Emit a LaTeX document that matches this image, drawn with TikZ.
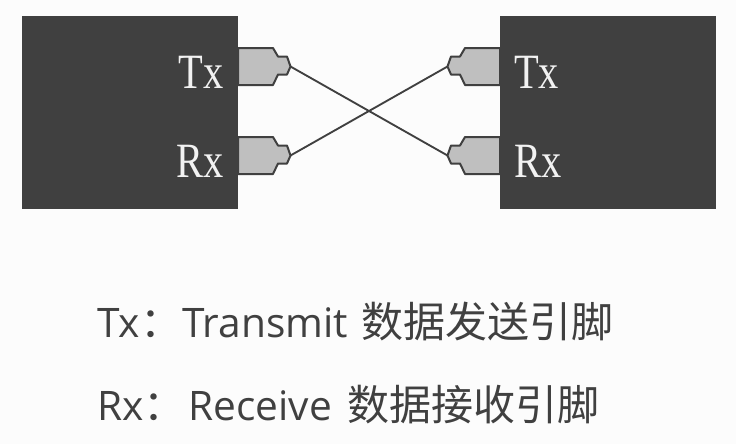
\documentclass[tikz,border=0pt]{standalone}
\usepackage{fontspec}
\usepackage{xcolor}
\setmainfont{Liberation Serif}
\newfontfamily\cjkfont{Noto Sans CJK SC}
\newfontfamily\latinfont{Open Sans}
\newcommand{\zh}[1]{{\cjkfont\fontsize{31.5}{31.5}\selectfont #1}}
\definecolor{chipdark}{HTML}{404040}
\definecolor{pingray}{HTML}{BFBFBF}
\usetikzlibrary{positioning}

\begin{document}
\begin{tikzpicture}[
      x=0.75pt, y=-0.75pt,
      chip/.style={fill=chipdark, minimum width=162pt, minimum height=144.75pt, inner sep=0pt},
      pinlabel/.style={text=white!95!black, font=\fontsize{37}{37}\selectfont, xscale=0.82, inner sep=0pt},
      wire/.style={draw=chipdark, line width=1.4pt},
      note/.style={text=chipdark, font=\latinfont\fontsize{30.5}{30.5}\selectfont, anchor=west, inner sep=0pt},
      connpin/.pic={
        \draw[draw=chipdark, line width=1.5pt, fill=pingray, line join=round]
          (0,-18.5) -- (35,-18.5) -- (40,-10) -- (49,-10) -- (52.5,0)
          -- (49,8) -- (40,8) -- (35,18.5) -- (0,18.5) -- cycle;
        \coordinate (-tip) at (52.5,0);
      }
    ]
    \useasboundingbox[fill=white!99!black] (0,0) rectangle (736,444);
    % chips
    \node[chip] (left) at (130,112.5) {};
    \node[chip] (right) at (608,112.5) {};
    % pins
    \path (238,66.5) pic (txa) {connpin};
    \path (238,155.5) pic (rxa) {connpin};
    \path (500,66.5) pic[xscale=-1] (txb) {connpin};
    \path (500,155.5) pic[xscale=-1] (rxb) {connpin};
    % labels
    \node[pinlabel, anchor=east] (txaname) at (224,72) {Tx};
    \node[pinlabel, anchor=east] (rxaname) at (224,161) {Rx};
    \node[pinlabel, anchor=west] (txbname) at (514,72) {Tx};
    \node[pinlabel, anchor=west] (rxbname) at (514,161) {Rx};
    % crossing wires
    \draw[wire] (txa-tip) -- (rxb-tip);
    \draw[wire] (rxa-tip) -- (txb-tip);
    % legend
    \node[note] (txnote) at (97,322) {Tx\zh{：}Transmit\hspace{2pt} \zh{数据发送引脚}};
    \node[note] (rxnote) at (97,405) {Rx\zh{：}\hspace{2pt}Receive\hspace{4pt} \zh{数据接收引脚}};
  \end{tikzpicture}
\end{document}
